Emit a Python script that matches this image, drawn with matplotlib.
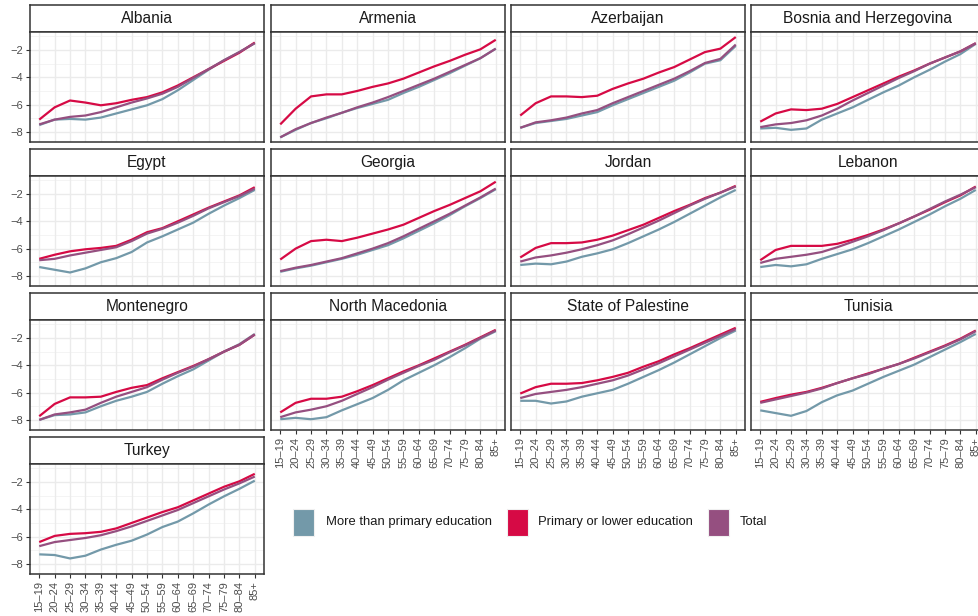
import matplotlib
matplotlib.use("Agg")
import matplotlib.pyplot as plt
from matplotlib.patches import Rectangle
import numpy as np

plt.rcParams['font.family'] = ['Liberation Sans', 'DejaVu Sans']

ages = ["15–19", "20–24", "25–29", "30–34", "35–39", "40–44", "45–49", "50–54",
        "55–59", "60–64", "65–69", "70–74", "75–79", "80–84", "85+"]

series_names = ["More than primary education", "Primary or lower education", "Total"]
series_colors = ["#7399A9", "#D60A45", "#954F80"]

countries = ["Albania", "Armenia", "Azerbaijan", "Bosnia and Herzegovina",
             "Egypt", "Georgia", "Jordan", "Lebanon",
             "Montenegro", "North Macedonia", "State of Palestine", "Tunisia",
             "Turkey"]

# values per country: [more than primary, primary or lower, total]
albania_more = [-7.5, -7.1, -7.05, -7.1, -6.95, -6.65, -6.35, -6.05, -5.6, -4.95, -4.2, -3.45, -2.75, -2.15, -1.5]
albania_prim = [-7.1, -6.2, -5.7, -5.85, -6.05, -5.9, -5.65, -5.45, -5.1, -4.6, -4.0, -3.4, -2.8, -2.2, -1.45]
albania_tot = [-7.45, -7.1, -6.9, -6.8, -6.55, -6.2, -5.85, -5.55, -5.2, -4.7, -4.05, -3.4, -2.75, -2.15, -1.5]

armenia_more = [-8.4, -7.85, -7.35, -7.0, -6.6, -6.25, -5.95, -5.65, -5.15, -4.7, -4.2, -3.7, -3.15, -2.6, -1.9]
armenia_prim = [-7.45, -6.3, -5.4, -5.25, -5.25, -5.0, -4.7, -4.45, -4.1, -3.65, -3.2, -2.8, -2.35, -1.95, -1.25]
armenia_tot = [-8.4, -7.8, -7.35, -6.95, -6.6, -6.2, -5.85, -5.45, -5.0, -4.55, -4.1, -3.6, -3.1, -2.6, -1.9]

azerbaijan_more = [-7.7, -7.35, -7.2, -7.05, -6.8, -6.55, -6.05, -5.6, -5.15, -4.7, -4.25, -3.65, -3.0, -2.75, -1.7]
azerbaijan_prim = [-6.8, -5.9, -5.4, -5.4, -5.45, -5.35, -4.85, -4.45, -4.1, -3.65, -3.25, -2.7, -2.15, -1.9, -1.05]
azerbaijan_tot = [-7.7, -7.3, -7.15, -6.95, -6.65, -6.4, -5.9, -5.45, -5.0, -4.55, -4.1, -3.55, -2.95, -2.65, -1.6]

bosnia_more = [-7.75, -7.7, -7.85, -7.75, -7.1, -6.65, -6.2, -5.65, -5.1, -4.6, -4.0, -3.45, -2.85, -2.3, -1.55]
bosnia_prim = [-7.25, -6.65, -6.35, -6.4, -6.3, -5.95, -5.45, -4.95, -4.45, -3.95, -3.5, -3.0, -2.55, -2.1, -1.5]
bosnia_tot = [-7.65, -7.45, -7.35, -7.15, -6.8, -6.3, -5.7, -5.15, -4.6, -4.05, -3.55, -3.0, -2.55, -2.1, -1.5]

egypt_more = [-7.35, -7.55, -7.75, -7.45, -7.0, -6.7, -6.25, -5.55, -5.1, -4.6, -4.1, -3.45, -2.85, -2.3, -1.7]
egypt_prim = [-6.75, -6.45, -6.2, -6.05, -5.95, -5.8, -5.35, -4.8, -4.5, -4.0, -3.5, -3.0, -2.55, -2.1, -1.5]
egypt_tot = [-6.85, -6.75, -6.5, -6.3, -6.1, -5.9, -5.45, -4.9, -4.55, -4.1, -3.6, -3.05, -2.6, -2.15, -1.6]

georgia_more = [-7.7, -7.45, -7.25, -7.0, -6.75, -6.45, -6.1, -5.75, -5.25, -4.7, -4.15, -3.55, -2.9, -2.3, -1.65]
georgia_prim = [-6.8, -6.0, -5.45, -5.35, -5.45, -5.2, -4.9, -4.6, -4.25, -3.75, -3.25, -2.8, -2.3, -1.8, -1.1]
georgia_tot = [-7.65, -7.4, -7.2, -6.95, -6.7, -6.35, -6.0, -5.6, -5.1, -4.55, -4.0, -3.45, -2.85, -2.25, -1.6]

jordan_more = [-7.2, -7.1, -7.15, -6.95, -6.6, -6.35, -6.05, -5.6, -5.1, -4.6, -4.05, -3.45, -2.85, -2.25, -1.7]
jordan_prim = [-6.65, -5.95, -5.6, -5.6, -5.55, -5.35, -5.05, -4.65, -4.25, -3.75, -3.25, -2.8, -2.3, -1.9, -1.4]
jordan_tot = [-6.95, -6.65, -6.5, -6.3, -6.05, -5.75, -5.4, -4.95, -4.45, -3.95, -3.4, -2.85, -2.35, -1.9, -1.45]

lebanon_more = [-7.35, -7.2, -7.3, -7.15, -6.75, -6.4, -6.05, -5.6, -5.1, -4.6, -4.05, -3.5, -2.9, -2.35, -1.7]
lebanon_prim = [-6.85, -6.1, -5.8, -5.8, -5.8, -5.65, -5.35, -5.0, -4.6, -4.15, -3.65, -3.15, -2.6, -2.1, -1.45]
lebanon_tot = [-7.05, -6.75, -6.6, -6.45, -6.25, -5.9, -5.5, -5.1, -4.65, -4.15, -3.65, -3.1, -2.55, -2.05, -1.5]

montenegro_more = [-8.0, -7.65, -7.6, -7.45, -7.0, -6.6, -6.3, -5.95, -5.35, -4.8, -4.3, -3.65, -3.0, -2.45, -1.7]
montenegro_prim = [-7.73, -6.83, -6.35, -6.35, -6.3, -5.95, -5.65, -5.45, -4.95, -4.5, -4.05, -3.55, -3.0, -2.5, -1.75]
montenegro_tot = [-8.0, -7.6, -7.45, -7.25, -6.75, -6.3, -5.95, -5.6, -5.05, -4.55, -4.1, -3.55, -3.0, -2.5, -1.75]

macedonia_more = [-7.95, -7.85, -7.95, -7.8, -7.3, -6.85, -6.4, -5.8, -5.1, -4.55, -4.0, -3.4, -2.75, -2.05, -1.5]
macedonia_prim = [-7.45, -6.75, -6.45, -6.45, -6.3, -5.9, -5.45, -4.95, -4.45, -4.0, -3.5, -3.0, -2.5, -1.95, -1.4]
macedonia_tot = [-7.8, -7.45, -7.25, -7.0, -6.6, -6.1, -5.6, -5.05, -4.55, -4.05, -3.6, -3.05, -2.55, -2.0, -1.45]

palestine_more = [-6.6, -6.6, -6.8, -6.65, -6.3, -6.05, -5.8, -5.35, -4.85, -4.35, -3.8, -3.2, -2.6, -2.0, -1.45]
palestine_prim = [-6.07, -5.6, -5.35, -5.35, -5.3, -5.1, -4.85, -4.55, -4.1, -3.7, -3.2, -2.75, -2.25, -1.75, -1.25]
palestine_tot = [-6.4, -6.1, -5.95, -5.8, -5.6, -5.35, -5.1, -4.75, -4.3, -3.85, -3.35, -2.85, -2.35, -1.85, -1.35]

tunisia_more = [-7.3, -7.5, -7.7, -7.35, -6.7, -6.2, -5.85, -5.35, -4.85, -4.4, -3.95, -3.4, -2.85, -2.3, -1.7]
tunisia_prim = [-6.68, -6.4, -6.15, -5.95, -5.65, -5.3, -4.95, -4.6, -4.25, -3.9, -3.45, -3.0, -2.55, -2.05, -1.45]
tunisia_tot = [-6.75, -6.5, -6.25, -6.0, -5.7, -5.3, -4.95, -4.65, -4.25, -3.9, -3.5, -3.05, -2.6, -2.1, -1.5]

turkey_more = [-7.3, -7.35, -7.6, -7.4, -6.95, -6.6, -6.3, -5.85, -5.3, -4.9, -4.3, -3.65, -3.05, -2.5, -1.9]
turkey_prim = [-6.4, -5.95, -5.8, -5.75, -5.65, -5.4, -5.0, -4.6, -4.2, -3.85, -3.35, -2.85, -2.35, -1.95, -1.4]
turkey_tot = [-6.7, -6.4, -6.25, -6.1, -5.9, -5.6, -5.25, -4.85, -4.45, -4.05, -3.55, -3.05, -2.55, -2.1, -1.6]

data = {
    "Albania": (albania_more, albania_prim, albania_tot),
    "Armenia": (armenia_more, armenia_prim, armenia_tot),
    "Azerbaijan": (azerbaijan_more, azerbaijan_prim, azerbaijan_tot),
    "Bosnia and Herzegovina": (bosnia_more, bosnia_prim, bosnia_tot),
    "Egypt": (egypt_more, egypt_prim, egypt_tot),
    "Georgia": (georgia_more, georgia_prim, georgia_tot),
    "Jordan": (jordan_more, jordan_prim, jordan_tot),
    "Lebanon": (lebanon_more, lebanon_prim, lebanon_tot),
    "Montenegro": (montenegro_more, montenegro_prim, montenegro_tot),
    "North Macedonia": (macedonia_more, macedonia_prim, macedonia_tot),
    "State of Palestine": (palestine_more, palestine_prim, palestine_tot),
    "Tunisia": (tunisia_more, tunisia_prim, tunisia_tot),
    "Turkey": (turkey_more, turkey_prim, turkey_tot),
}

y_ticks = [-8, -6, -4, -2]
y_minor = [-7, -5, -3, -1]

W, H = 979, 616
fig = plt.figure(figsize=(W / 100, H / 100), dpi=100)
fig.patch.set_facecolor("white")


def box(l, t, w, h):
    return [l / W, 1 - (t + h) / H, w / W, h / H]


col_left = [30, 271, 511, 751]
row_top = [5, 149, 293, 437]
panel_w = 234
strip_h = 27
panel_h = 110
border_col = "#333333"
x = np.arange(len(ages))

for i, c in enumerate(countries):
    r, k = divmod(i, 4)
    l = col_left[k]
    t = row_top[r]
    # strip
    sax = fig.add_axes(box(l, t, panel_w, strip_h))
    sax.set_xticks([]); sax.set_yticks([])
    sax.set_facecolor("white")
    for sp in sax.spines.values():
        sp.set_color(border_col); sp.set_linewidth(1.1)
    sax.text(0.5, 0.5, c, ha="center", va="center", fontsize=11.2,
             color="#1A1A1A", transform=sax.transAxes)
    # panel
    ax = fig.add_axes(box(l, t + strip_h, panel_w, panel_h))
    ax.set_facecolor("white")
    ax.set_xlim(-0.6, len(ages) - 1 + 0.6)
    ax.set_ylim(-8.74, -0.68)
    for yv in y_minor:
        ax.axhline(yv, color="#F2F2F2", lw=0.6, zorder=0)
    for yv in y_ticks:
        ax.axhline(yv, color="#EBEBEB", lw=1.0, zorder=0)
    for xv in x:
        ax.axvline(xv, color="#EBEBEB", lw=1.0, zorder=0)
    for vals, col in zip(data[c], series_colors):
        ax.plot(x, vals, color=col, lw=1.6, solid_capstyle="butt", zorder=3)
    for sp in ax.spines.values():
        sp.set_color(border_col); sp.set_linewidth(1.1)
    show_y = (k == 0)
    show_x = (r == 3) or (r == 2 and k >= 1)
    ax.set_yticks(y_ticks)
    ax.set_yticklabels([f"\u2212{abs(v)}" for v in y_ticks] if show_y else [])
    ax.set_xticks(x)
    ax.set_xticklabels(ages if show_x else [], rotation=90)
    ax.tick_params(axis="y", length=3 if show_y else 0, width=0.8, color="#333333",
                   labelsize=8, labelcolor="#4D4D4D", pad=2)
    ax.tick_params(axis="x", length=3 if show_x else 0, width=0.8, color="#333333",
                   labelsize=8, labelcolor="#4D4D4D", pad=2)

# legend
leg_items = [(293, 326), (507, 538), (708, 740)]
for (kx, tx), name, col in zip(leg_items, series_names, series_colors):
    rect = Rectangle(((kx) / W, 1 - 536 / H), 21 / W, 27 / H, transform=fig.transFigure,
                     facecolor=col, edgecolor="#F0F0F0", lw=0.8)
    fig.patches.append(rect)
    fig.text(tx / W, 1 - 522 / H, name, ha="left", va="center", fontsize=9.4,
             color="#1A1A1A")

fig.savefig("out.png", dpi=100)
